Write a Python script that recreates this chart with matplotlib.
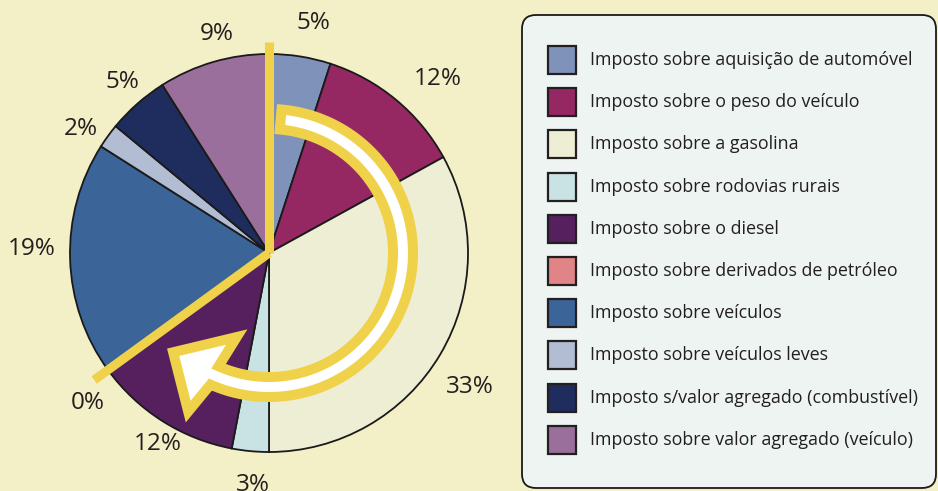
import numpy as np
import matplotlib
matplotlib.use("Agg")
import matplotlib.pyplot as plt
from matplotlib.patches import FancyBboxPatch, Rectangle, Polygon

plt.rcParams['font.family'] = ['Open Sans', 'DejaVu Sans']

categories = [
    "Imposto sobre aquisição de automóvel",
    "Imposto sobre o peso do veículo",
    "Imposto sobre a gasolina",
    "Imposto sobre rodovias rurais",
    "Imposto sobre o diesel",
    "Imposto sobre derivados de petróleo",
    "Imposto sobre veículos",
    "Imposto sobre veículos leves",
    "Imposto s/valor agregado (combustível)",
    "Imposto sobre valor agregado (veículo)",
]
values = [5, 12, 33, 3, 12, 0, 19, 2, 5, 9]
colors = ["#7F93BA", "#952763", "#EEEED5", "#C9E2E3", "#56205E",
          "#E08487", "#3B6499", "#B2BCD2", "#1F2D5E", "#9A6F9C"]

BG = "#F3EFC6"
TXT = "#231F20"
YEL = "#EFD24A"

W, H = 938, 491
fig = plt.figure(figsize=(W / 100, H / 100), dpi=100)
fig.patch.set_facecolor(BG)
ax = fig.add_axes([0, 0, 1, 1])
ax.set_facecolor(BG)

cx, cy, R = 269, 238, 199
wedges, texts, autotexts = ax.pie(
    values, colors=colors, startangle=90, counterclock=False,
    center=(cx, cy), radius=R,
    autopct=lambda p: f"{p:.0f}%", pctdistance=1.17,
    wedgeprops=dict(edgecolor="#1a1a1a", linewidth=1.3),
    textprops=dict(fontsize=17.5, color=TXT))

# small placement nudges of the percentage labels (pixels)
nudges = [(8, 0), (20, -5), (0, -15), (6, 0), (14, 6),
          (7, -13), (-5, 11), (0, -13), (7, -4), (13, -5)]
for t, (dx, dy) in zip(autotexts, nudges):
    x, y = t.get_position()
    t.set_position((x + dx, y + dy))

ax.set_xlim(0, W)
ax.set_ylim(0, H)
ax.set_aspect('equal')
ax.axis('off')

# yellow radial lines: start (top) and boundary at the 0% slice
total = sum(values)
cum_before = sum(values[:5])
ang_zero = np.deg2rad(90 - 360 * cum_before / total)
ax.plot([cx, cx], [cy, cy + 211], color=YEL, lw=6.5, solid_capstyle='butt', zorder=5)
ax.plot([cx, cx + 216 * np.cos(ang_zero)], [cy, cy + 216 * np.sin(ang_zero)],
        color=YEL, lw=6.5, solid_capstyle='butt', zorder=5)

# curved clockwise arrow
a0, a1 = 85, -114
r_in, r_out = 124, 144
t = np.deg2rad(np.linspace(a0, a1, 120))
outer = np.c_[cx + r_out * np.cos(t), cy + r_out * np.sin(t)]
inner = np.c_[cx + r_in * np.cos(t[::-1]), cy + r_in * np.sin(t[::-1])]
ab_out = np.deg2rad(-117)
ab_in = np.deg2rad(-111)
at = np.deg2rad(-134)
head = np.array([
    [cx + 178 * np.cos(ab_out), cy + 178 * np.sin(ab_out)],
    [cx + 138 * np.cos(at), cy + 138 * np.sin(at)],
    [cx + 90 * np.cos(ab_in), cy + 90 * np.sin(ab_in)],
])
pts = np.vstack([outer, head, inner])
ax.add_patch(Polygon(pts, closed=True, facecolor="white", edgecolor=YEL,
                     linewidth=7.2, joinstyle='miter', zorder=6))

# legend box
ax.add_patch(FancyBboxPatch((522 + 14, H - 488 + 14), 414 - 28, 473 - 28,
                            boxstyle="round,pad=14", facecolor="#EDF4F1",
                            edgecolor="#1a1a1a", linewidth=1.3, zorder=2))
for i, (lab, col) in enumerate(zip(categories, colors)):
    yc = H - (60 + 42.2 * i)
    ax.add_patch(Rectangle((548, yc - 14), 28, 28, facecolor=col,
                           edgecolor="#231F20", linewidth=1.6, zorder=3))
    ax.text(590, yc, lab, fontsize=12.9, color=TXT, va='center', ha='left', zorder=3)

fig.savefig("out.png", dpi=100, facecolor=BG)
